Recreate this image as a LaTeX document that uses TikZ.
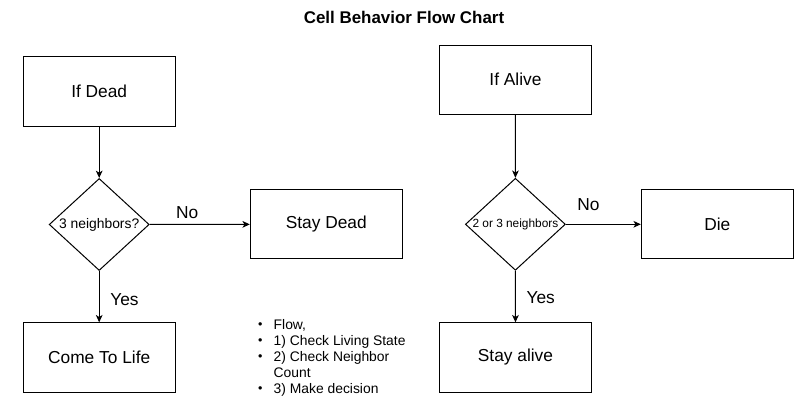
\documentclass[tikz,border=0pt]{standalone}
\usepackage{fontspec}
\setmainfont{Liberation Sans}
\usetikzlibrary{arrows.meta,shapes.geometric,positioning}

\newcommand{\flowdot}{\raisebox{0.3pt}{\scalebox{0.9}{\textbullet}}}

\begin{document}
\begin{tikzpicture}[
        x=0.75pt, y=-0.75pt,
        every path/.style={line width=0.75pt},
        box/.style={draw, minimum width=114pt, minimum height=52pt, inner sep=0pt, font=\fontsize{13}{15}\selectfont},
        decision/.style={draw, diamond, minimum width=75pt, minimum height=69pt, inner sep=0pt},
        answer/.style={inner sep=0pt, font=\fontsize{13}{15}\selectfont},
        flow/.style={-{Stealth[length=5.5pt, width=5pt, inset=1.5pt]}}
    ]

    \useasboundingbox (0,0) rectangle (808,402);

    % Title
    \node (title) at (404,17) {\fontsize{12.7}{15}\selectfont\bfseries Cell Behavior Flow Chart};

    % Nodes (dead cell)
    \node (dead) [box] at (99.2,91.5) {If Dead};
    \node (ask3) [decision, label={[font=\fontsize{10.4}{12}\selectfont]center:3 neighbors?}] at (99.2,224.5) {};
    \node (staydead) [box] at (326.3,224.3) {Stay Dead};
    \node (life) [box] at (99.2,357.5) {Come To Life};

    % Nodes (living cell)
    \node (alive) [box] at (515.5,79.7) {If Alive};
    \node (ask23) [decision, label={[font=\fontsize{8.9}{10}\selectfont]center:2 or 3 neighbors}] at (515.4,224.3) {};
    \node (die) [box] at (717.3,224.3) {Die};
    \node (stay) [box] at (515.5,357.5) {Stay alive};

    % Notes
    \node (notes) [anchor=west, inner sep=0pt, font=\fontsize{10.4}{12}\selectfont] at (257.5,358) {%
        \begin{tabular}{@{}l@{\hspace{8.5pt}}l@{}}
            \flowdot & Flow, \\
            \flowdot & 1) Check Living State \\
            \flowdot & 2) Check Neighbor \\
                     & Count \\
            \flowdot & 3) Make decision
        \end{tabular}};

    % Edges
    \draw[flow] (dead) -- (ask3);
    \draw[flow] (ask3) -- node[answer, above=3.75pt, pos=0.376] {No} (staydead);
    \draw[flow] (ask3) -- node[answer, right=8pt, pos=0.55] {Yes} (life);

    \draw[flow] (alive) -- (ask23);
    \draw[flow] (ask23) -- node[answer, above=9.5pt, pos=0.3] {No} (die);
    \draw[flow] (ask23) -- node[answer, right=8pt, pos=0.53] {Yes} (stay);

\end{tikzpicture}
\end{document}
